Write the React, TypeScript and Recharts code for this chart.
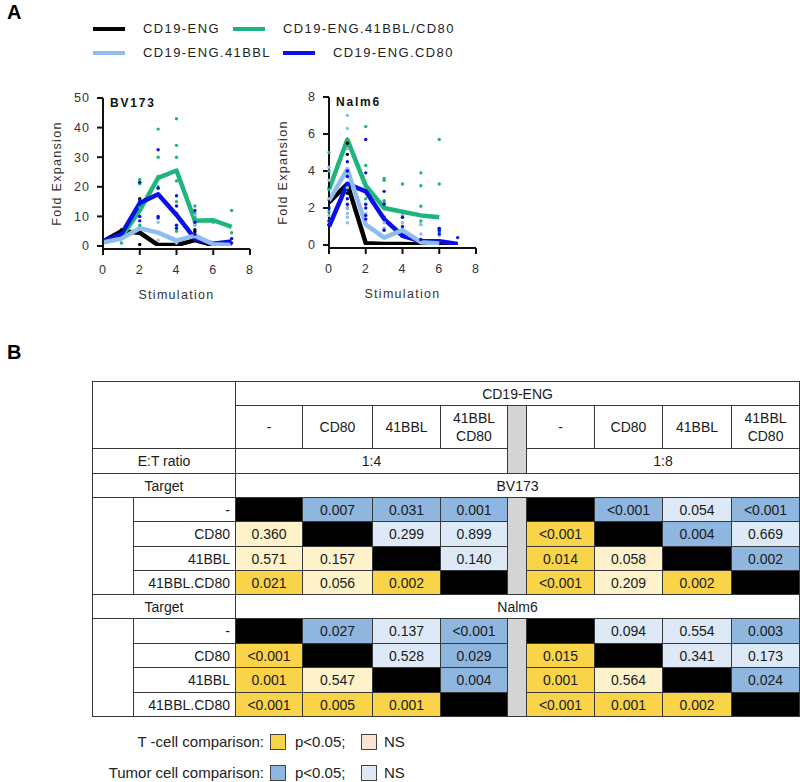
import React from 'react';
import { ComposedChart, Line, Scatter, XAxis, YAxis, Label } from 'recharts';

// ---- panel A data ----
const stimulation = [0, 1, 2, 3, 4, 5, 6, 7];
const seriesNames = ['CD19-ENG', 'CD19-ENG.41BBL/CD80', 'CD19-ENG.41BBL', 'CD19-ENG.CD80'];
const seriesColors = ['#000000', '#1fb47b', '#8fbdf0', '#0a10e8'];

// BV173 means (fold expansion per stimulation)
const bvEng = [1.5, 5, 4.5, 0.3, 0.3, 2, 0.3, 0.2];
const bvDual = [1.5, 3, 12, 23, 25.5, 8.5, 8.7, 6.5];
const bvBbl = [1.2, 2.5, 6, 4.5, 1.8, 3.5, 0.6, 0.3];
const bvCd80 = [1.5, 4, 14.5, 17.5, 10.5, 2.5, 0.8, 1.5];

// BV173 individual donors [stimulation, fold]
const bvEngPts = [[1, 5.5], [2, 16], [2, 0.5], [3, 0.3], [5, 5.5], [5, 4.8]];
const bvDualPts = [[1, 1], [2, 22.5], [2, 21], [2, 13], [2, 10], [2, 7], [3, 39.5], [3, 30], [3, 23.5], [3, 20],
  [4, 43], [4, 34], [4, 30], [4, 22], [4, 15], [4, 5], [5, 13.5], [5, 11], [5, 10], [5, 8], [5, 7], [6, 8],
  [7, 12], [7, 4.5], [7, 2.5]];
const bvBblPts = [[3, 8], [3, 2], [4, 1], [5, 10.5], [5, 7]];
const bvCd80Pts = [[2, 21.5], [2, 15.5], [2, 10], [2, 8.5], [3, 32.5], [3, 19.5], [3, 10], [3, 9.5], [4, 17],
  [4, 13.5], [4, 11], [4, 7], [4, 6], [5, 12], [5, 8], [5, 4], [7, 2.5], [7, 1]];

// Nalm6 means
const nmEng = [2.3, 3.3, 0.1, 0.05, 0.05, 0.03, 0.02, 0.02];
const nmDual = [3.0, 5.7, 3.2, 2.0, 1.8, 1.6, 1.5];
const nmBbl = [2.4, 4.1, 1.1, 0.4, 0.8, 0.15, 0.08];
const nmCd80 = [1.0, 3.3, 2.9, 1.4, 0.5, 0.2, 0.2, 0.05];

const nmEngPts = [[1, 5.5], [1, 4.9], [1, 2.8], [1, 2.0], [2, 0.1]];
const nmDualPts = [[0, 5.0], [0, 4.0], [0, 3.0], [0, 1.8], [1, 5.7], [1, 5.3], [2, 6.4], [2, 4.3], [2, 3.3],
  [2, 2.5], [3, 3.6], [3, 3.5], [3, 2.4], [3, 2.3], [3, 0.9], [4, 3.3], [4, 1.6], [4, 1.5], [5, 3.9], [5, 3.2],
  [5, 2.1], [5, 1.3], [5, 1.1], [6, 5.7], [6, 3.3], [6, 0.9], [6, 0.7]];
const nmBblPts = [[0, 4.2], [0, 3.5], [0, 2.5], [0, 1.6], [0, 1.3], [1, 7.0], [1, 6.3], [1, 5.2], [1, 3.1],
  [1, 2.0], [1, 1.7], [1, 1.5], [1, 1.2], [2, 1.7], [3, 1.2], [3, 0.9], [4, 1.6], [4, 1.2], [5, 1.1], [5, 0.6],
  [6, 0.5]];
const nmCd80Pts = [[0, 1.1], [0, 1.3], [0, 2.0], [1, 4.5], [1, 4.0], [1, 3.7], [1, 2.5], [1, 2.2], [2, 5.7],
  [2, 3.9], [2, 2.2], [2, 2.0], [2, 1.6], [2, 1.4], [3, 2.9], [3, 2.2], [3, 1.5], [3, 0.8], [4, 1.5], [4, 1.0],
  [4, 0.5], [5, 0.3], [6, 0.9], [6, 0.8], [6, 0.6], [7, 0.4]];

const xTicks = [0, 2, 4, 6, 8];
const bvTicks = [0, 10, 20, 30, 40, 50];
const nmTicks = [0, 2, 4, 6, 8];

// ---- panel B data ----
const treatmentCols = ['-', 'CD80', '41BBL', '41BBL\nCD80'];
const rowLabels = ['-', 'CD80', '41BBL', '41BBL.CD80'];
const ratios = ['1:4', '1:8'];
const targets = ['BV173', 'Nalm6'];
const bv173Ratio14 = [[null, '0.007', '0.031', '0.001'], ['0.360', null, '0.299', '0.899'], ['0.571', '0.157', null, '0.140'], ['0.021', '0.056', '0.002', null]];
const bv173Ratio18 = [[null, '<0.001', '0.054', '<0.001'], ['<0.001', null, '0.004', '0.669'], ['0.014', '0.058', null, '0.002'], ['<0.001', '0.209', '0.002', null]];
const nalm6Ratio14 = [[null, '0.027', '0.137', '<0.001'], ['<0.001', null, '0.528', '0.029'], ['0.001', '0.547', null, '0.004'], ['<0.001', '0.005', '0.001', null]];
const nalm6Ratio18 = [[null, '0.094', '0.554', '0.003'], ['0.015', null, '0.341', '0.173'], ['0.001', '0.564', null, '0.024'], ['<0.001', '0.001', '0.002', null]];

const FONT = '"Liberation Sans", Arial, sans-serif';
const tickStyle = { fontSize: 12.5, fill: '#333', fontFamily: FONT, letterSpacing: 1 };

const toLine = (vals: number[]) => vals.map((y, i) => ({ x: stimulation[i], y }));
const toPts = (pts: number[][]) => pts.map(([x, y]) => ({ x, y }));

function ExpansionChart({ left, top, title, yMax, yTicks, means, points }: any) {
  return (
    <div style={{ position: 'absolute', left, top, width: 220, height: 220 }}>
      <ComposedChart width={220} height={220} margin={{ top: 8, right: 10, bottom: 6, left: 0 }}>
        <XAxis type="number" dataKey="x" domain={[0, 8]} ticks={xTicks} interval={0} height={55}
          axisLine={{ stroke: '#111', strokeWidth: 2 }} tickLine={{ stroke: '#111', strokeWidth: 2 }}
          tickSize={6} tickMargin={10} tick={tickStyle}>
          <Label value="Stimulation" position="insideBottom" offset={5}
            style={{ fontSize: 12.5, fill: '#333', fontFamily: FONT, letterSpacing: 1.3 }} />
        </XAxis>
        <YAxis type="number" dataKey="y" domain={[0, yMax]} ticks={yTicks} interval={0} width={63}
          padding={{ top: 0, bottom: 3 }} allowDataOverflow
          axisLine={{ stroke: '#111', strokeWidth: 2 }} tickLine={{ stroke: '#111', strokeWidth: 2 }}
          tickSize={6} tickMargin={7} tick={tickStyle}>
          <Label value="Fold Expansion" angle={-90} position="insideLeft" offset={17}
            style={{ textAnchor: 'middle', fontSize: 12.5, fill: '#333', fontFamily: FONT, letterSpacing: 1.3 }} />
        </YAxis>
        {points.map((pts: number[][], i: number) => (
          <Scatter key={'s' + i} data={toPts(pts)} dataKey="y" isAnimationActive={false}
            shape={(p: any) => <circle cx={p.cx} cy={p.cy} r={1.7} fill={seriesColors[i]} />} />
        ))}
        {[0, 1, 3, 2].map((i) => (
          <Line key={'l' + i} data={toLine(means[i])} dataKey="y" type="linear" stroke={seriesColors[i]}
            strokeWidth={4.5} strokeLinejoin="round" dot={false} activeDot={false} isAnimationActive={false} />
        ))}
      </ComposedChart>
      <div style={{ position: 'absolute', left: 70, top: 6, fontSize: 12, fontWeight: 'bold', letterSpacing: 1.8, fontFamily: FONT, color: '#111' }}>
        {title}
      </div>
    </div>
  );
}

const pColors = { tSig: '#f9d449', tNs: '#fdf2c9', tumSig: '#8fb6df', tumNs: '#dde9f6' };
const border = '1.5px solid #383838';

function cellFill(v: string | null, r: number, c: number) {
  if (v === null) return '#000';
  const sig = v.startsWith('<') || parseFloat(v) < 0.05;
  if (c > r) return sig ? pColors.tumSig : pColors.tumNs;
  return sig ? pColors.tSig : pColors.tNs;
}

function StatsTable() {
  const colWidths = [41, 102, 67, 70, 68, 67, 19, 68, 68, 69, 68];
  const td: any = { border, padding: 0, textAlign: 'center', verticalAlign: 'middle' };
  const gray: any = { ...td, background: '#d5d5d5' };
  const blocks = [
    { target: targets[0], vals: [bv173Ratio14, bv173Ratio18], heights: [24, 25, 24, 24] },
    { target: targets[1], vals: [nalm6Ratio14, nalm6Ratio18], heights: [25, 24, 25, 24] },
  ];
  return (
    <table style={{ position: 'absolute', left: 92, top: 381, width: 707, borderCollapse: 'collapse', tableLayout: 'fixed', fontSize: 14, lineHeight: '16px', color: '#1a1a1a', fontFamily: FONT }}>
      <colgroup>{colWidths.map((w, i) => <col key={i} style={{ width: w }} />)}</colgroup>
      <tbody>
        <tr style={{ height: 24 }}>
          <td colSpan={2} rowSpan={2} style={td} />
          <td colSpan={9} style={td}>CD19-ENG</td>
        </tr>
        <tr style={{ height: 43 }}>
          {treatmentCols.map((c, i) => <td key={'a' + i} style={{ ...td, whiteSpace: 'pre-line', lineHeight: '18px' }}>{c}</td>)}
          <td rowSpan={2} style={gray} />
          {treatmentCols.map((c, i) => <td key={'b' + i} style={{ ...td, whiteSpace: 'pre-line', lineHeight: '18px' }}>{c}</td>)}
        </tr>
        <tr style={{ height: 25 }}>
          <td colSpan={2} style={td}>E:T ratio</td>
          <td colSpan={4} style={td}>{ratios[0]}</td>
          <td colSpan={4} style={td}>{ratios[1]}</td>
        </tr>
        {blocks.map((b, bi) => (
          <React.Fragment key={bi}>
            <tr style={{ height: 24 }}>
              <td colSpan={2} style={td}>Target</td>
              <td colSpan={9} style={td}>{b.target}</td>
            </tr>
            {rowLabels.map((lab, r) => (
              <tr key={r} style={{ height: b.heights[r] }}>
                {r === 0 && <td rowSpan={4} style={td} />}
                <td style={{ ...td, textAlign: 'right', paddingRight: 5 }}>{lab}</td>
                {b.vals[0][r].map((v, c) => (
                  <td key={'x' + c} style={{ ...td, background: cellFill(v, r, c) }}>{v}</td>
                ))}
                {r === 0 && <td rowSpan={4} style={gray} />}
                {b.vals[1][r].map((v, c) => (
                  <td key={'y' + c} style={{ ...td, background: cellFill(v, r, c) }}>{v}</td>
                ))}
              </tr>
            ))}
          </React.Fragment>
        ))}
      </tbody>
    </table>
  );
}

function KeyRow({ top, label, sig, ns }: any) {
  const box = (bg: string, left: number) => (
    <div style={{ position: 'absolute', left, top: top - 8, width: 14, height: 14, background: bg, border: '1.3px solid #444' }} />
  );
  const txt: any = { position: 'absolute', top: top - 9, fontSize: 15, lineHeight: '18px', color: '#222', fontFamily: FONT, whiteSpace: 'nowrap' };
  return (
    <>
      <div style={{ ...txt, right: 800 - 264 }}>{label}</div>
      {box(sig, 270)}
      <div style={{ ...txt, left: 295 }}>p&lt;0.05;</div>
      {box(ns, 361)}
      <div style={{ ...txt, left: 384 }}>NS</div>
    </>
  );
}

export default function App() {
  const legendPos = [
    { lx: 93, tx: 143, y: 29 },
    { lx: 233, tx: 283, y: 29 },
    { lx: 93, tx: 143, y: 53 },
    { lx: 283, tx: 333, y: 53 },
  ];
  return (
    <div style={{ position: 'absolute', left: 0, top: 0, width: 800, height: 782, background: '#fff', fontFamily: FONT, overflow: 'hidden' }}>
      <div style={{ position: 'absolute', left: 7, top: 1, fontSize: 20, fontWeight: 'bold' }}>A</div>
      <div style={{ position: 'absolute', left: 7, top: 341, fontSize: 20, fontWeight: 'bold' }}>B</div>
      {seriesNames.map((name, i) => (
        <React.Fragment key={name}>
          <div style={{ position: 'absolute', left: legendPos[i].lx, top: legendPos[i].y - 2, width: 32, height: 4, background: seriesColors[i] }} />
          <div style={{ position: 'absolute', left: legendPos[i].tx, top: legendPos[i].y - 8, fontSize: 13, lineHeight: '16px', letterSpacing: 1.4, color: '#222', whiteSpace: 'nowrap' }}>{name}</div>
        </React.Fragment>
      ))}
      <ExpansionChart left={40} top={90} title="BV173" yMax={50} yTicks={bvTicks}
        means={[bvEng, bvDual, bvBbl, bvCd80]} points={[bvEngPts, bvDualPts, bvBblPts, bvCd80Pts]} />
      <ExpansionChart left={266} top={89} title="Nalm6" yMax={8} yTicks={nmTicks}
        means={[nmEng, nmDual, nmBbl, nmCd80]} points={[nmEngPts, nmDualPts, nmBblPts, nmCd80Pts]} />
      <StatsTable />
      <KeyRow top={742} label="T -cell comparison:" sig={pColors.tSig} ns="#fde4d2" />
      <KeyRow top={773} label="Tumor cell comparison:" sig={pColors.tumSig} ns={pColors.tumNs} />
    </div>
  );
}
